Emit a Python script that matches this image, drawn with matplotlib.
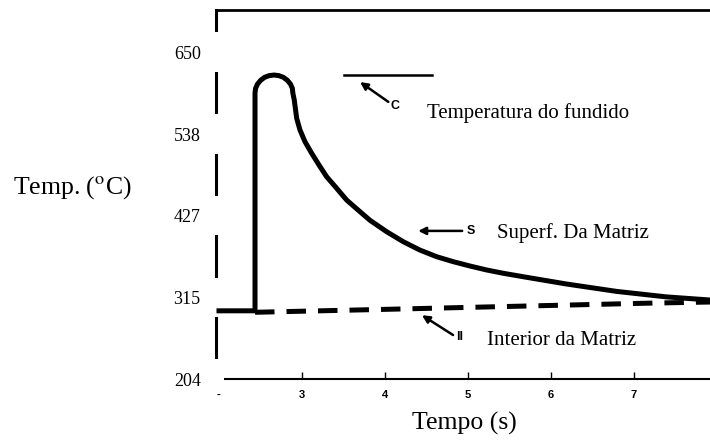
import matplotlib.pyplot as plt
import matplotlib.transforms as mtransforms
from matplotlib.patches import Rectangle

plt.rcParams['font.family'] = 'Liberation Serif'
plt.rcParams['mathtext.fontset'] = 'stix'

# superfície da matriz: tempo (s) x temperatura (C)
sup_t = [1.97, 2.434, 2.434, 2.441, 2.464, 2.502, 2.548, 2.604, 2.663, 2.722, 2.777,
         2.824, 2.861, 2.884, 2.89, 2.907, 2.936, 2.976, 3.036, 3.117, 3.205, 3.297,
         3.418, 3.538, 3.699, 3.819, 4.02, 4.22, 4.42, 4.623, 4.823, 5.024, 5.225,
         5.425, 5.707, 6.19, 6.79, 7.39, 7.92]
sup_T = [297, 297, 594, 600.5, 606.3, 611.4, 615.4, 617.8, 618.6, 617.8, 615.4,
         611.4, 606.3, 600.5, 594, 584.5, 559.6, 543.6, 527.7, 511.8, 495.9, 479.9,
         464.1, 448.1, 432.2, 420.5, 404.9, 391.3, 379.9, 370.8, 364, 358.1, 352.7,
         348.2, 342.7, 333.5, 323.5, 316, 311.7]

# interior da matriz
int_t = [2.434, 4.0, 5.5, 7.2, 7.92]
int_T = [295, 299, 303, 307.5, 309]

# temperatura do fundido
fund_t = [3.51, 4.57]
fund_T = [618, 618]

yticks = [204, 315, 427, 538, 650]
xticks = [2, 3, 4, 5, 6, 7]
xlabels = ['-', '3', '4', '5', '6', '7']

fig = plt.figure(figsize=(7.1, 4.41), dpi=100)
ax = fig.add_axes([216 / 710, 62 / 441, 494 / 710, 369 / 441])

ax.plot(sup_t, sup_T, color='black', lw=3.6, zorder=3,
        solid_joinstyle='round', solid_capstyle='butt')
ax.plot(int_t, int_T, color='black', lw=3.6, zorder=3, dashes=(3.9, 2.4))
ax.plot(fund_t, fund_T, color='black', lw=1.8, zorder=3)

ax.set_xlim(1.964, 7.916)
ax.set_ylim(204, 707.3)

ax.spines['right'].set_visible(False)
ax.spines['left'].set_linewidth(2.2)
ax.spines['top'].set_linewidth(2.0)
ax.spines['bottom'].set_linewidth(1.5)

ax.set_yticks(yticks)
ax.set_yticklabels([str(v) for v in yticks])
ax.tick_params(axis='y', length=0, pad=11, labelsize=13)
ax.set_xticks(xticks)
ax.set_xticklabels(xlabels, fontfamily='Liberation Sans', fontweight='bold')
ax.tick_params(axis='x', direction='in', length=5, width=1.0, pad=8, labelsize=8)
ax.xaxis.get_major_ticks()[0].tick1line.set_visible(False)
ax.yaxis.set_zorder(3)
ax.xaxis.set_zorder(3)

# caixas brancas sob os rótulos do eixo y
trans = mtransforms.blended_transform_factory(ax.transAxes, ax.transData)
for v in yticks:
    ax.add_patch(Rectangle((-0.12, v - 27), 0.136, 54, transform=trans,
                           facecolor='white', edgecolor='none',
                           clip_on=False, zorder=2.6))

# setas e rótulos
arrow = dict(arrowstyle='-|>', color='black', lw=1.8, mutation_scale=11,
             shrinkA=0, shrinkB=0)
ax.annotate('', xy=(3.70, 609), xytext=(4.04, 582), arrowprops=arrow, zorder=4)
ax.text(4.07, 576, 'C', fontfamily='Liberation Sans', fontweight='bold',
        fontsize=9, ha='left', va='center')
ax.text(4.506, 567, 'Temperatura do fundido', fontsize=15, ha='left', va='center')

ax.annotate('', xy=(4.40, 406), xytext=(4.93, 406), arrowprops=arrow, zorder=4)
ax.text(4.99, 406, 'S', fontfamily='Liberation Sans', fontweight='bold',
        fontsize=9, ha='left', va='center')
ax.text(5.35, 403, 'Superf. Da Matriz', fontsize=15, ha='left', va='center')

ax.annotate('', xy=(4.446, 291), xytext=(4.82, 264), arrowprops=arrow, zorder=4)
ax.text(4.86, 261, 'II', fontfamily='Liberation Sans', fontweight='bold',
        fontsize=9, ha='left', va='center')
ax.text(5.23, 257, 'Interior da Matriz', fontsize=15, ha='left', va='center')

fig.text(13 / 710, 1 - 188 / 441, r'Temp. ($^{\rm o}$C)', fontsize=18.5,
         ha='left', va='center')
fig.text(464 / 710, 1 - 423 / 441, 'Tempo (s)', fontsize=18.5,
         ha='center', va='center')

fig.savefig('out.png', dpi=100)
